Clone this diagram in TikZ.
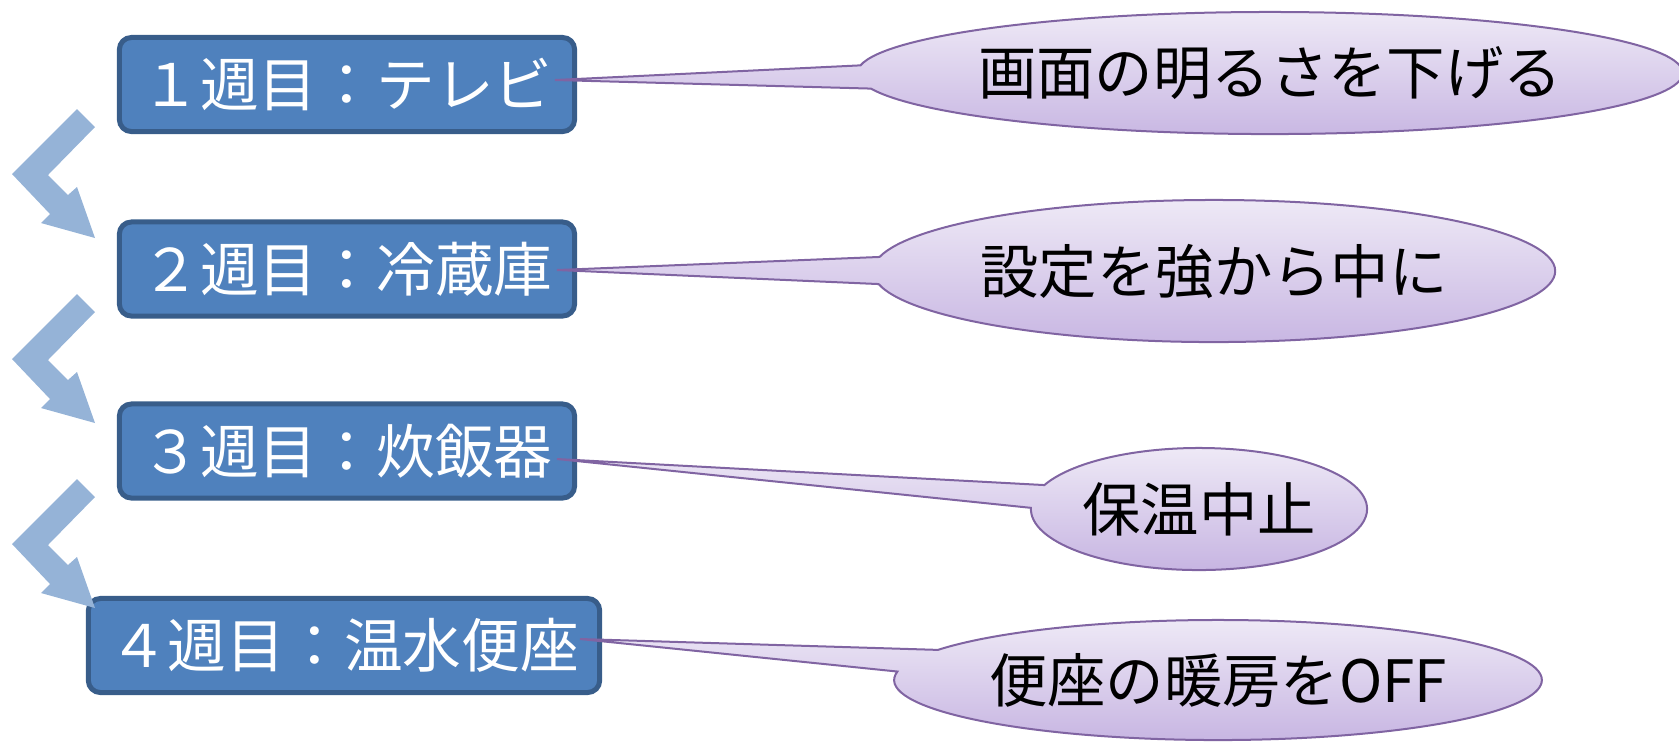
\documentclass[tikz,border=0pt]{standalone}
\usepackage{fontspec}
\newfontfamily\jpfont{Noto Sans CJK JP}
\usetikzlibrary{shapes.callouts}

\definecolor{boxfill}{RGB}{79,129,189}
\definecolor{boxline}{RGB}{56,93,138}
\definecolor{flowblue}{RGB}{149,179,215}
\definecolor{bubbletop}{RGB}{238,233,246}
\definecolor{bubblebot}{RGB}{199,181,226}
\definecolor{bubbleline}{RGB}{128,100,162}

\begin{document}
\begin{tikzpicture}[x=0.01cm, y=-0.01cm,
    weekbox/.style={rectangle, rounded corners=0.12cm, draw=boxline,
    line width=0.05cm, fill=boxfill, text=white, minimum height=0.94cm,
    inner sep=0, font=\jpfont\fontsize{16.7pt}{19pt}\selectfont},
    advice/.style={ellipse callout, draw=bubbleline, line width=0.02cm,
    top color=bubbletop, bottom color=bubblebot, callout pointer arc=22,
    inner sep=0, font=\jpfont\fontsize{16.6pt}{19pt}\selectfont}]
    \useasboundingbox (0, 0) rectangle (1679, 741);

    % weekly steps
    \node (W1) at (347, 84.5)  [weekbox, minimum width=4.55cm] {１週目：テレビ};
    \node (W2) at (347, 269)   [weekbox, minimum width=4.55cm] {２週目：冷蔵庫};
    \node (W3) at (347, 451)   [weekbox, minimum width=4.55cm] {３週目：炊飯器};
    \node (W4) at (344, 645.5) [weekbox, minimum width=5.11cm] {４週目：温水便座};

    % where the callouts point
    \coordinate (P1) at (555, 80);
    \coordinate (P2) at (557, 270);
    \coordinate (P3) at (557, 459);
    \coordinate (P4) at (580, 639);

    \node (A1) at (1270, 73) [advice, minimum width=8.2cm, minimum height=1.22cm,
    callout absolute pointer=(P1)] {画面の明るさを下げる};
    \node (A2) at (1214, 271) [advice, minimum width=6.82cm, minimum height=1.42cm,
    callout absolute pointer=(P2)] {設定を強から中に};
    \node (A3) at (1199, 509) [advice, minimum width=3.36cm, minimum height=1.22cm,
    callout absolute pointer=(P3)] {保温中止};
    \node (A4) at (1218, 680) [advice, minimum width=6.42cm, minimum height=1.2cm,
    callout absolute pointer=(P4)] {便座の暖房をOFF};

    % bent arrows between the weeks
    \foreach \dy in {0, 185, 370} {
        \fill [flowblue, shift={(0, \dy)}] (77, 109) -- (95, 127) -- (48, 175)
        -- (68, 195) -- (77, 187) -- (95, 238) -- (41, 223) -- (50, 214)
        -- (12, 174) -- cycle;
    }
\end{tikzpicture}
\end{document}
